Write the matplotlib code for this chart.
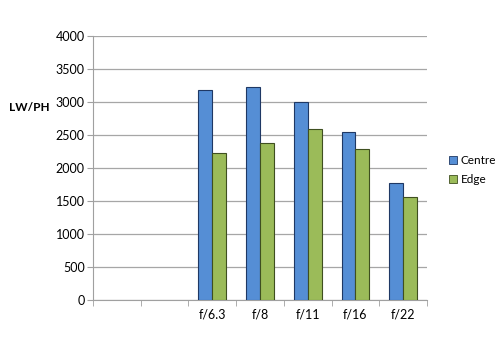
import numpy as np
import matplotlib.pyplot as plt
from matplotlib.patches import Patch

categories = ["", "", "f/6.3", "f/8", "f/11", "f/16", "f/22"]
centre = [np.nan, np.nan, 3180, 3230, 3005, 2545, 1770]
edge = [np.nan, np.nan, 2220, 2380, 2595, 2285, 1565]

plt.rcParams['font.family'] = ['Lato', 'DejaVu Sans']

fig = plt.figure(figsize=(5, 3.38), dpi=100)
ax = fig.add_axes([0.186, 0.1124, 0.668, 0.7811])

x = np.arange(len(categories))
w = 0.29
ax.bar(x - w / 2, centre, w, color='#558ED5', edgecolor='#1F3864', linewidth=0.8, zorder=3)
ax.bar(x + w / 2, edge, w, color='#9BBB59', edgecolor='#3F4F20', linewidth=0.8, zorder=3)

ax.set_xlim(-0.5, len(categories) - 0.5)
ax.set_ylim(0, 4000)
ax.set_yticks(np.arange(0, 4001, 500))
ax.set_xticks(x)
ax.set_xticklabels(categories)
ax.set_xticks(np.arange(-0.5, len(categories)), minor=True)
ax.tick_params(axis='x', which='major', length=0, pad=6, labelsize=9)
ax.tick_params(axis='x', which='minor', length=4, color='#A0A0A0', direction='out')
ax.tick_params(axis='y', length=4, color='#A0A0A0', labelsize=9, pad=2)

ax.grid(axis='y', color='#A6A6A6', linewidth=0.9, zorder=0)
for s in ['top', 'right']:
    ax.spines[s].set_visible(False)
for s in ['left', 'bottom']:
    ax.spines[s].set_color('#A0A0A0')

ax.text(-0.19, 0.73, "LW/PH", transform=ax.transAxes, ha='center', va='center',
        fontweight='bold', fontsize=8.5)

handles = [Patch(facecolor='#558ED5', edgecolor='#1F3864', linewidth=0.6, label='Centre'),
           Patch(facecolor='#9BBB59', edgecolor='#3F4F20', linewidth=0.6, label='Edge')]
fig.legend(handles=handles, loc='center left', bbox_to_anchor=(0.889, 0.497), frameon=False,
           fontsize=8.5, handlelength=0.7, handleheight=0.7, handletextpad=0.25, labelspacing=0.7,
           borderpad=0.2, borderaxespad=0.2)

fig.savefig("out.png", dpi=100)
